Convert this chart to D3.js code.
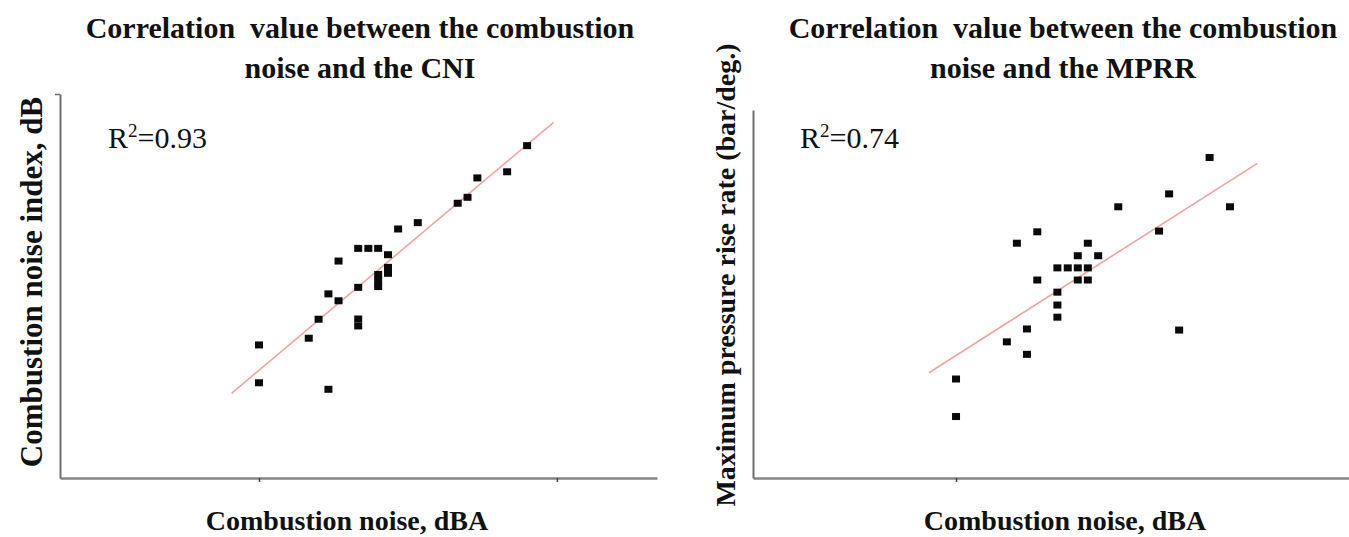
<!DOCTYPE html>
<html>
<head>
<meta charset="utf-8">
<script src="https://cdn.jsdelivr.net/npm/d3@7"></script>
<style>
  body { margin: 0; background: #fff; }
  svg { display: block; }
  text { font-family: "Liberation Serif", "Times New Roman", serif; fill: #111; white-space: pre; }
</style>
</head>
<body>
<svg id="chart" width="1349" height="537"></svg>
<script>
// Combustion noise (dBA) against combustion noise index (dB)
const cniNoise = [89.0, 88.33, 87.33, 87.0, 86.67, 85.33, 84.67, 83.33, 83.67, 84.0,
                  84.33, 84.33, 84.33, 84.0, 84.0, 84.0, 82.67, 83.33, 82.33, 82.67,
                  82.0, 81.67, 83.33, 83.33, 80.0, 80.0, 82.33];
const cniIndex = [89.31, 87.95, 87.63, 86.62, 86.31, 85.30, 84.97, 83.96, 83.96, 83.96,
                  83.63, 82.97, 82.66, 82.60, 82.29, 81.97, 83.30, 81.93, 81.59, 81.23,
                  80.27, 79.28, 80.28, 79.92, 78.93, 76.96, 76.62];
const cniFit = [1.306, -26.87];          // slope, intercept
const cniFitSpan = [79.08, 89.89];
const cniR2 = "0.93";
const cniTitle = ["Correlation  value between the combustion", "noise and the CNI"];
const cniYLabel = "Combustion noise index, dB";

// Combustion noise (dBA) against maximum pressure rise rate (bar/deg.)
const mprrNoise = [88.33, 87.0, 89.0, 85.33, 86.67, 82.67, 82.0, 84.33, 84.0, 84.67,
                   83.33, 83.67, 84.0, 84.33, 82.67, 84.0, 84.33, 83.33, 83.33, 83.33,
                   82.33, 87.33, 81.67, 82.33, 80.0, 80.0];
const mprrRate = [8.71, 7.72, 7.37, 7.37, 6.71, 6.69, 6.38, 6.38, 6.04, 6.04,
                  5.71, 5.71, 5.71, 5.71, 5.38, 5.38, 5.38, 5.05, 4.70, 4.37,
                  4.05, 4.02, 3.70, 3.36, 2.69, 1.67];
const mprrFit = [0.5274, -38.862];
const mprrFitSpan = [79.11, 89.90];
const mprrR2 = "0.74";
const mprrTitle = ["Correlation  value between the combustion", "noise and the MPRR"];
const mprrYLabel = "Maximum pressure rise rate (bar/deg.)";

const xLabel = "Combustion noise, dBA";
const cniXTicks = [80, 90];
const mprrXTicks = [80];

const svg = d3.select("#chart");

function drawPanel(p) {
  const g = svg.append("g");
  const x = d3.scaleLinear().domain(p.xDomain).range(p.xRange);
  const y = d3.scaleLinear().domain(p.yDomain).range(p.yRange);

  // axes
  const xAxis = g.append("g")
    .attr("transform", `translate(0,${p.yRange[0]})`)
    .call(d3.axisBottom(x).tickValues(p.xTicks).tickSize(4).tickSizeOuter(0).tickFormat(""));
  xAxis.select(".domain").attr("stroke", "#858585").attr("stroke-width", 2.4);
  xAxis.selectAll(".tick line").attr("stroke", "#444").attr("stroke-width", 1.5);

  const yAxis = g.append("g")
    .attr("transform", `translate(${p.xRange[0]},0)`)
    .call(d3.axisLeft(y).tickValues(p.yTicks).tickSize(5).tickSizeOuter(0).tickFormat(""));
  yAxis.select(".domain").attr("stroke", "#6e6e6e").attr("stroke-width", 2);
  yAxis.selectAll(".tick line").attr("stroke", "#6e6e6e").attr("stroke-width", 1.5);

  // fitted line
  const line = d3.line().x(d => x(d)).y(d => y(p.fit[0] * d + p.fit[1]));
  g.append("path")
    .datum(p.fitSpan)
    .attr("d", line)
    .attr("fill", "none")
    .attr("stroke", "#f1a2a2")
    .attr("stroke-width", 1.6);

  // points
  const pts = d3.zip(p.xs, p.ys);
  g.selectAll("rect.pt").data(pts).join("rect")
    .attr("class", "pt")
    .attr("x", d => x(d[0]) - 4)
    .attr("y", d => y(d[1]) - 3.5)
    .attr("width", 8)
    .attr("height", 7)
    .attr("fill", "#0a0a0a");

  // title
  const t = g.append("text")
    .attr("text-anchor", "middle")
    .attr("font-weight", "bold")
    .attr("font-size", 30);
  p.title.forEach((s, i) => {
    t.append("tspan").attr("x", p.titleX).attr("y", 38 + i * 40).text(s);
  });

  // R-squared
  const r = g.append("text")
    .attr("x", p.r2X).attr("y", 148)
    .attr("font-size", 30);
  r.append("tspan").text("R");
  r.append("tspan").attr("font-size", 19).attr("dy", -11).text("2");
  r.append("tspan").attr("dy", 11).text("=" + p.r2);

  // axis titles
  g.append("text")
    .attr("x", p.xLabelX).attr("y", 530)
    .attr("text-anchor", "middle")
    .attr("font-weight", "bold")
    .attr("font-size", 28)
    .text(xLabel);

  g.append("text")
    .attr("transform", `translate(${p.yLabelX},${p.yLabelY}) rotate(-90)`)
    .attr("text-anchor", "middle")
    .attr("font-weight", "bold")
    .attr("font-size", p.yLabelSize)
    .text(p.yLabel);
}

drawPanel({
  xs: cniNoise, ys: cniIndex,
  xDomain: [73.32, 93.36], xRange: [60, 657],
  yDomain: [72, 92], yRange: [478, 94],
  xTicks: cniXTicks, yTicks: [92],
  fit: cniFit, fitSpan: cniFitSpan,
  title: cniTitle, titleX: 360,
  r2: cniR2, r2X: 108,
  xLabelX: 347,
  yLabel: cniYLabel, yLabelX: 42, yLabelY: 282, yLabelSize: 31
});

drawPanel({
  xs: mprrNoise, ys: mprrRate,
  xDomain: [73.33, 92.91], xRange: [753, 1349],
  yDomain: [0, 10], yRange: [478, 110],
  xTicks: mprrXTicks, yTicks: [],
  fit: mprrFit, fitSpan: mprrFitSpan,
  title: mprrTitle, titleX: 1063,
  r2: mprrR2, r2X: 800,
  xLabelX: 1065,
  yLabel: mprrYLabel, yLabelX: 735, yLabelY: 275, yLabelSize: 28
});
</script>
</body>
</html>
